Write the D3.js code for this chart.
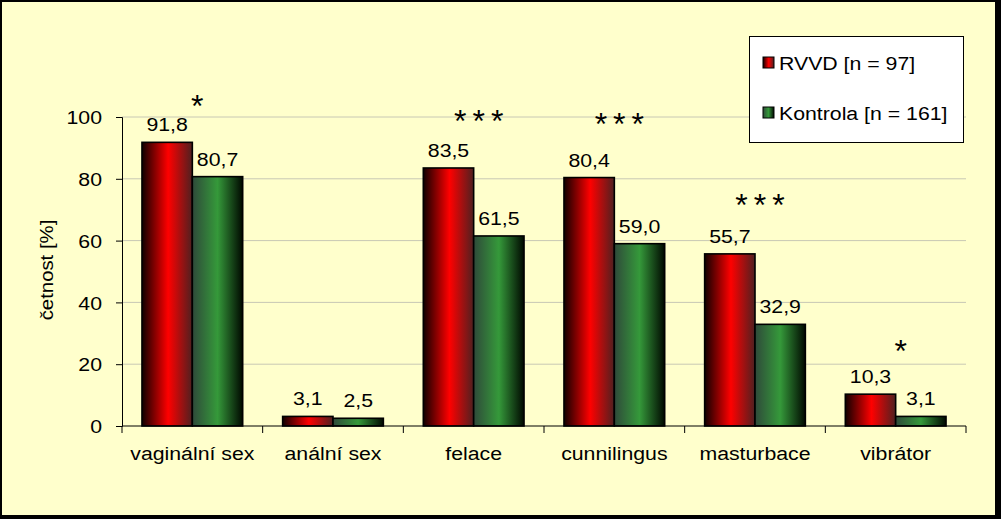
<!DOCTYPE html>
<html><head><meta charset="utf-8">
<script src="https://cdn.jsdelivr.net/npm/d3@7"></script>
<style>
html,body{margin:0;padding:0;background:#000;}
svg{display:block;font-family:"Liberation Sans",Arial,sans-serif;}
</style></head>
<body>
<svg id="chart" width="1001" height="519"></svg>
<script>
const categories = ["vaginální sex","anální sex","felace","cunnilingus","masturbace","vibrátor"];
const seriesNames = ["RVVD [n = 97]","Kontrola [n = 161]"];
const rvvd = [91.8, 3.1, 83.5, 80.4, 55.7, 10.3];
const kontrola = [80.7, 2.5, 61.5, 59.0, 32.9, 3.1];
const sigLabels = ["*", "", "***", "***", "***", "*"];
const sigLevel = [106, null, 101, 100, 74, 26.5];
const yTicks = [0, 20, 40, 60, 80, 100];
const yTitle = "četnost [%]";

const svg = d3.select("#chart");
const W = 1001, H = 519;
const SX = 1.12;

// frame
svg.append("rect").attr("x",0).attr("y",0).attr("width",W).attr("height",H).attr("fill","#000");
svg.append("rect").attr("x",2).attr("y",2).attr("width",993).attr("height",513).attr("fill","#FFFFCC");

const defs = svg.append("defs");
const gR = defs.append("linearGradient").attr("id","gRed").attr("x1","0").attr("x2","1").attr("y1","0").attr("y2","0");
gR.append("stop").attr("offset","0").attr("stop-color","#100000");
gR.append("stop").attr("offset","0.52").attr("stop-color","#ff0000");
gR.append("stop").attr("offset","1").attr("stop-color","#4e2020");
const gG = defs.append("linearGradient").attr("id","gGreen").attr("x1","0").attr("x2","1").attr("y1","0").attr("y2","0");
gG.append("stop").attr("offset","0").attr("stop-color","#2f4a3a");
gG.append("stop").attr("offset","0.5").attr("stop-color","#35993a");
gG.append("stop").attr("offset","1").attr("stop-color","#000800");

const x0 = 122, x1 = 966, y0 = 426, y1 = 117;
const x = d3.scaleBand().domain(categories).range([x0,x1]).paddingInner(0.284).paddingOuter(0.142);
const xs = d3.scaleBand().domain([0,1]).range([0,x.bandwidth()]);
const y = d3.scaleLinear().domain([0,100]).range([y0,y1]);

// gridlines
svg.append("g").selectAll("line").data(yTicks.filter(d=>d>0)).join("line")
  .attr("x1",x0).attr("x2",x1).attr("y1",d=>y(d)).attr("y2",d=>y(d))
  .attr("stroke","#c8c8b4").attr("stroke-width",1);

// y axis
const yAx = svg.append("g").attr("transform",`translate(${x0},0)`)
  .call(d3.axisLeft(y).tickValues(yTicks).tickSize(6).tickPadding(6).tickFormat(d3.format("d")));
yAx.select(".domain").attr("stroke","#000");
yAx.selectAll(".tick line").attr("stroke","#000");
yAx.selectAll(".tick text").attr("font-size","19px").attr("fill","#000")
  .attr("font-family","Liberation Sans, Arial, sans-serif")
  .attr("x",null).attr("dy","0.35em").attr("transform",`translate(-20,0) scale(${SX},1)`);

// bars
const series = [rvvd, kontrola];
const fills = ["url(#gRed)","url(#gGreen)"];
series.forEach((vals,si)=>{
  svg.append("g").selectAll("rect").data(vals).join("rect")
    .attr("x",(d,i)=>x(categories[i])+xs(si))
    .attr("y",d=>y(d))
    .attr("width",xs.bandwidth())
    .attr("height",d=>y0-y(d))
    .attr("fill",fills[si]).attr("stroke","#000").attr("stroke-width",1.6);
});

// x axis
const xAx = svg.append("g").attr("transform",`translate(0,${y0})`);
xAx.append("line").attr("x1",x0).attr("x2",x1).attr("y1",0).attr("y2",0).attr("stroke","#000");
const bounds = categories.map(c=>x(c)-x.step()*x.paddingInner()/2).concat([x1]);
bounds[0]=x0;
xAx.selectAll("line.tk").data(bounds).join("line").attr("class","tk")
  .attr("x1",d=>d).attr("x2",d=>d).attr("y1",0).attr("y2",7).attr("stroke","#000");
xAx.selectAll("text").data(categories).join("text")
  .attr("transform",d=>`translate(${x(d)+x.bandwidth()/2},34) scale(${SX},1)`)
  .attr("text-anchor","middle").attr("font-size","19px").attr("fill","#000").text(d=>d);

// value labels
const fmt = v => d3.format(".1f")(v).replace(".",",");
series.forEach((vals,si)=>{
  svg.append("g").selectAll("text").data(vals).join("text")
    .attr("transform",(d,i)=>`translate(${x(categories[i])+xs(si)+xs.bandwidth()/2},${y(d)-11}) scale(${SX},1)`)
    .attr("text-anchor","middle").attr("font-size","19px").attr("fill","#000").text(d=>fmt(d));
});

// significance stars
const SFS = 32, LS = 6;
svg.append("g").selectAll("text").data(categories.map((c,i)=>({c,l:sigLabels[i],v:sigLevel[i]})).filter(d=>d.l))
  .join("text")
  .attr("x",d=>x(d.c)+x.bandwidth()/2+5+LS/2)
  .attr("y",d=>y(d.v)+SFS*0.57)
  .attr("letter-spacing",LS+"px")
  .attr("text-anchor","middle").attr("font-size",SFS+"px").attr("fill","#000").text(d=>d.l);

// y title
svg.append("text").attr("transform",`translate(53,270) rotate(-90) scale(1.1,1)`)
  .attr("text-anchor","middle").attr("font-size","18.5px").attr("fill","#000").text(yTitle);

// legend
const lg = svg.append("g");
lg.append("rect").attr("x",749.5).attr("y",36.5).attr("width",214).attr("height",106)
  .attr("fill","#fff").attr("stroke","#000").attr("stroke-width",1);
seriesNames.forEach((n,i)=>{
  const yy = 57 + i*50;
  lg.append("rect").attr("x",763).attr("y",yy).attr("width",11).attr("height",11)
    .attr("fill",fills[i]).attr("stroke","#000").attr("stroke-width",1);
  lg.append("text").attr("transform",`translate(779,${yy+13}) scale(${SX},1)`)
    .attr("font-size","19px").attr("fill","#000").text(n);
});
</script>
</body></html>
